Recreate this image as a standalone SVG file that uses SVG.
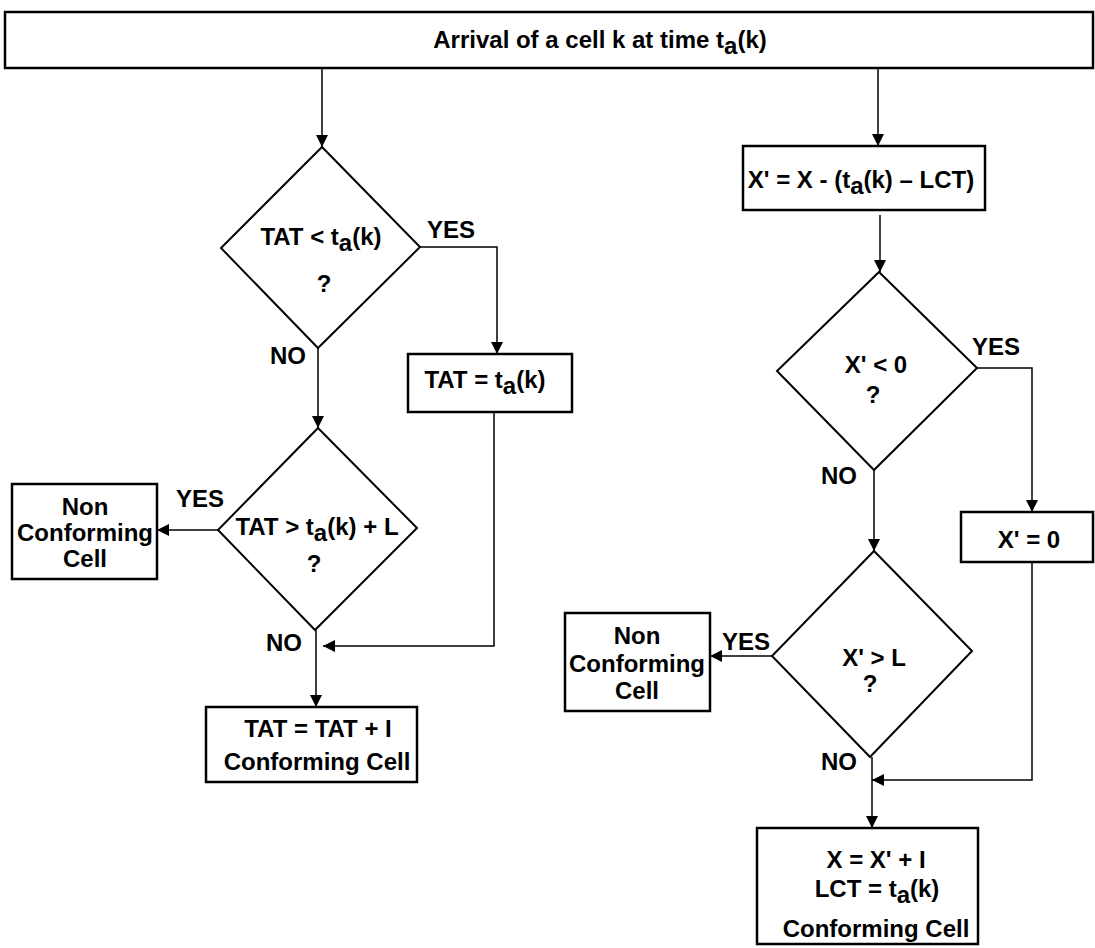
<svg xmlns="http://www.w3.org/2000/svg" width="1095" height="948" viewBox="0 0 1095 948">
<style>
.box{fill:#fff;stroke:#000;stroke-width:2.5}
.dia{fill:#fff;stroke:#000;stroke-width:2}
.ln{fill:none;stroke:#000;stroke-width:1.5}
text{font-family:"Liberation Sans",Arial,sans-serif;font-weight:bold;font-size:24px;fill:#000}
.c{text-anchor:middle}
</style>
<defs>
<marker id="ah" markerWidth="12" markerHeight="12" viewBox="0 0 12 12" refX="12" refY="6" orient="auto" markerUnits="userSpaceOnUse">
<path d="M0,0 L12,6 L0,12 Z" fill="#000"/>
</marker>
</defs>
<rect width="1095" height="948" fill="#fff"/>
<g id="connectors">
<path class="ln" d="M322,68 V147" marker-end="url(#ah)"/>
<path class="ln" d="M420,247 H497 V354" marker-end="url(#ah)"/>
<path class="ln" d="M318,348 V428" marker-end="url(#ah)"/>
<path class="ln" d="M494,412 V646 H323" marker-end="url(#ah)"/>
<path class="ln" d="M218,530 H157" marker-end="url(#ah)"/>
<path class="ln" d="M316,630 V707" marker-end="url(#ah)"/>
<path class="ln" d="M878,68 V146" marker-end="url(#ah)"/>
<path class="ln" d="M880,215 V272" marker-end="url(#ah)"/>
<path class="ln" d="M977,368 H1032 V512" marker-end="url(#ah)"/>
<path class="ln" d="M874,470 V551" marker-end="url(#ah)"/>
<path class="ln" d="M772,656 H710" marker-end="url(#ah)"/>
<path class="ln" d="M1032,562 V780 H872" marker-end="url(#ah)"/>
<path class="ln" d="M872,757 V828" marker-end="url(#ah)"/>
</g>
<g id="labels">
<text x="427" y="238">YES</text>
<text x="270" y="364">NO</text>
<text x="176" y="507">YES</text>
<text x="266" y="651">NO</text>
<text x="972" y="355">YES</text>
<text x="821" y="484">NO</text>
<text x="722" y="650">YES</text>
<text x="821" y="770">NO</text>
</g>
<g id="arrival">
<rect class="box" x="5" y="12" width="1088" height="56" stroke-width="3"/>
<text class="c" x="600" y="48">Arrival of a cell k at time t<tspan dy="6">a</tspan><tspan dy="-6">(k)</tspan></text>
</g>
<g id="d1">
<polygon class="dia" points="322,147 420,247 318,348 221,248"/>
<text class="c" x="321" y="245">TAT &lt; t<tspan dy="6">a</tspan><tspan dy="-6">(k)</tspan></text>
<text class="c" x="324" y="292">?</text>
</g>
<g id="b1">
<rect class="box" x="408" y="354" width="164" height="58"/>
<text class="c" x="485" y="388">TAT = t<tspan dy="6">a</tspan><tspan dy="-6">(k)</tspan></text>
</g>
<g id="d2">
<polygon class="dia" points="318,428 417,528 315,630 218,530"/>
<text class="c" x="317" y="535">TAT &gt; t<tspan dy="6">a</tspan><tspan dy="-6">(k) + L</tspan></text>
<text class="c" x="314" y="572">?</text>
</g>
<g id="nc1">
<rect class="box" x="12" y="484" width="145" height="95"/>
<text class="c" x="85" y="515">Non</text>
<text class="c" x="85" y="541">Conforming</text>
<text class="c" x="85" y="567">Cell</text>
</g>
<g id="c1">
<rect class="box" x="206" y="707" width="211" height="75"/>
<text class="c" x="318" y="737">TAT = TAT + I</text>
<text class="c" x="317" y="770">Conforming Cell</text>
</g>
<g id="b2">
<rect class="box" x="743" y="146" width="242" height="64"/>
<text class="c" x="861" y="188">X' = X - (t<tspan dy="6">a</tspan><tspan dy="-6">(k) – LCT)</tspan></text>
</g>
<g id="d3">
<polygon class="dia" points="879,272 977,368 874,470 777,371"/>
<text class="c" x="876" y="373">X' &lt; 0</text>
<text class="c" x="873" y="403">?</text>
</g>
<g id="b3">
<rect class="box" x="961" y="512" width="132" height="50"/>
<text class="c" x="1029" y="548">X' = 0</text>
</g>
<g id="d4">
<polygon class="dia" points="874,551 972,651 870,757 772,656"/>
<text class="c" x="874" y="666">X' &gt; L</text>
<text class="c" x="870" y="692">?</text>
</g>
<g id="nc2">
<rect class="box" x="565" y="613" width="145" height="98"/>
<text class="c" x="637" y="644">Non</text>
<text class="c" x="637" y="672">Conforming</text>
<text class="c" x="637" y="699">Cell</text>
</g>
<g id="c2">
<rect class="box" x="757" y="828" width="221" height="116"/>
<text class="c" x="876" y="868">X = X' + I</text>
<text class="c" x="877" y="897">LCT = t<tspan dy="6">a</tspan><tspan dy="-6">(k)</tspan></text>
<text class="c" x="876" y="937">Conforming Cell</text>
</g>
</svg>
